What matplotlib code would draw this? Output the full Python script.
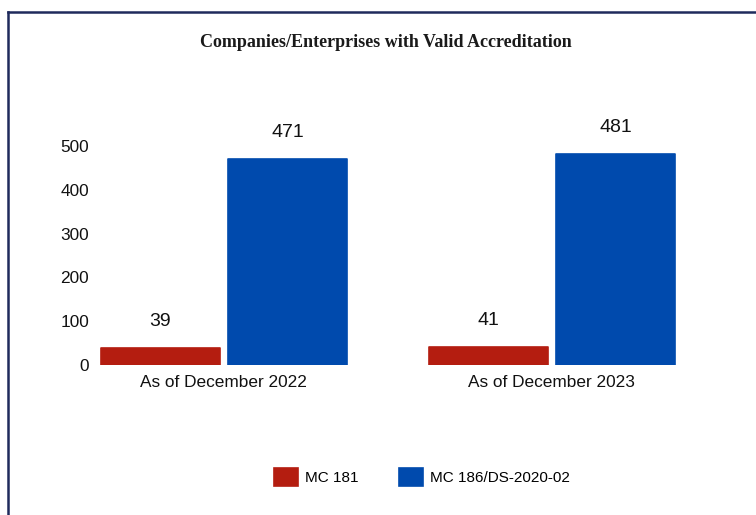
import matplotlib.pyplot as plt
import numpy as np
from matplotlib.lines import Line2D

# data
categories = ['As of December 2022', 'As of December 2023']
series_names = ['MC 181', 'MC 186/DS-2020-02']
mc181 = [39, 41]
mc186 = [471, 481]
colors = ['#b41d10', '#004aad']
yticks = [0, 100, 200, 300, 400, 500]

plt.rcParams['font.family'] = ['Liberation Sans', 'DejaVu Sans']

fig = plt.figure(figsize=(7.56, 5.15), dpi=100)
ax = fig.add_axes([0.127, 0.291, 0.772, 0.4255])

x = np.arange(len(categories))
w = 0.363
off = 0.194
for vals, dx, c, name in [(mc181, -off, colors[0], series_names[0]),
                          (mc186, off, colors[1], series_names[1])]:
    bars = ax.bar(x + dx, vals, w, color=c, edgecolor=c, linewidth=1.2,
                  joinstyle='round', label=name)
    for b, v in zip(bars, vals):
        ax.annotate(str(v), (b.get_x() + b.get_width() / 2, v),
                    xytext=(0, 13), textcoords='offset points',
                    ha='center', va='bottom', fontsize=14, color='#111111',
                    annotation_clip=False)

ax.set_xlim(-0.39, 1.39)
ax.set_ylim(0, 500)
ax.set_yticks(yticks)
ax.set_xticks(x)
ax.set_xticklabels(categories)
ax.tick_params(axis='both', length=0, labelsize=12.4, colors='#111111')
ax.tick_params(axis='x', pad=7)
ax.tick_params(axis='y', pad=5)
for s in ax.spines.values():
    s.set_visible(False)

fig.text(0.511, 0.918, 'Companies/Enterprises with Valid Accreditation',
         ha='center', va='center', fontsize=13, fontweight='bold',
         family=['Liberation Serif', 'DejaVu Serif'], color='#1a1a1a')

fig.legend(loc='center', bbox_to_anchor=(0.558, 0.074), ncol=2, frameon=False,
           fontsize=11, handlelength=1.63, handleheight=1.5,
           handletextpad=0.45, columnspacing=2.6)

# frame lines (top and left)
fig.add_artist(Line2D([0.0106, 1.0], [0.977, 0.977], color='#1f2a5c', lw=1.8))
fig.add_artist(Line2D([0.0106, 0.0106], [0.0, 0.977], color='#1f2a5c', lw=1.8))

fig.savefig('out.png', dpi=100)
